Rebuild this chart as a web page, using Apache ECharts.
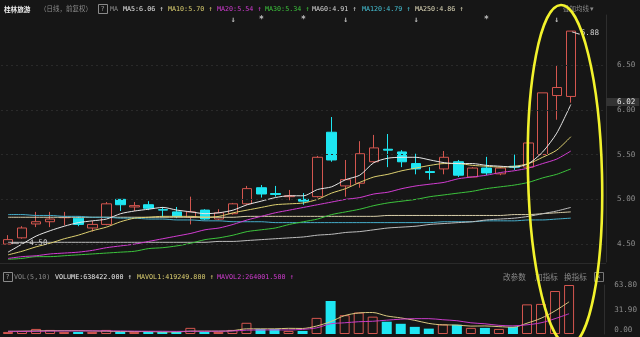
<!DOCTYPE html>
<html><head><meta charset="utf-8">
<script src="https://cdn.jsdelivr.net/npm/echarts@6/dist/echarts.min.js"></script>
<style>html,body{margin:0;padding:0;background:#161616}#c{width:640px;height:337px}</style>
</head><body><div id="c"></div>
<script>
// ---------- data ----------
const categories = ['T1','T2','T3','T4','T5','T6','T7','T8','T9','T10','T11','T12','T13','T14','T15','T16','T17','T18','T19','T20','T21','T22','T23','T24','T25','T26','T27','T28','T29','T30','T31','T32','T33','T34','T35','T36','T37','T38','T39','T40','T41'];
const opens  = [4.50,4.57,4.725,4.75,4.795,4.79,4.68,4.72,5.00,4.915,4.94,4.885,4.86,4.80,4.88,4.78,4.84,4.95,5.13,5.065,5.03,5.00,5.03,5.75,5.15,5.18,5.42,5.56,5.53,5.40,5.31,5.34,5.42,5.25,5.35,5.285,5.37,5.36,5.50,6.16,6.15];
const closes = [4.55,4.68,4.75,4.78,4.80,4.72,4.72,4.95,4.94,4.93,4.90,4.88,4.81,4.86,4.78,4.85,4.95,5.12,5.06,5.055,5.04,4.98,5.47,5.44,5.22,5.51,5.575,5.55,5.42,5.34,5.30,5.47,5.27,5.35,5.295,5.35,5.36,5.63,6.19,6.25,6.88];
const lows   = [4.50,4.56,4.69,4.69,4.71,4.70,4.64,4.71,4.87,4.87,4.88,4.80,4.79,4.72,4.77,4.77,4.83,4.94,5.02,5.03,4.99,4.94,5.02,5.42,5.03,5.13,5.41,5.36,5.36,5.28,5.22,5.28,5.25,5.25,5.27,5.27,5.33,5.36,5.50,5.89,6.08];
const highs  = [4.60,4.70,4.86,4.86,4.86,4.81,4.76,4.97,5.00,4.97,4.98,4.915,4.915,5.03,4.89,4.89,4.96,5.15,5.16,5.15,5.105,5.07,5.485,5.92,5.44,5.65,5.72,5.73,5.55,5.51,5.36,5.54,5.44,5.36,5.475,5.37,5.50,5.63,6.19,6.50,6.88];
const ma5   = [4.41,4.50,4.59,4.65,4.70,4.74,4.76,4.78,4.84,4.87,4.89,4.91,4.88,4.86,4.84,4.85,4.88,4.94,4.98,5.02,5.04,5.04,5.11,5.14,5.22,5.27,5.41,5.46,5.47,5.47,5.44,5.41,5.40,5.40,5.38,5.37,5.36,5.40,5.53,5.74,6.06];
const ma10  = [4.38,4.42,4.47,4.51,4.56,4.60,4.65,4.69,4.75,4.79,4.80,4.81,4.81,4.81,4.80,4.81,4.85,4.88,4.91,4.94,4.95,4.96,5.00,5.07,5.12,5.19,5.25,5.28,5.32,5.35,5.38,5.40,5.40,5.38,5.37,5.36,5.37,5.40,5.47,5.55,5.70];
const ma20  = [4.34,4.36,4.37,4.39,4.40,4.41,4.43,4.46,4.48,4.50,4.53,4.56,4.59,4.62,4.66,4.68,4.72,4.77,4.81,4.85,4.88,4.91,4.94,4.97,5.00,5.02,5.06,5.08,5.12,5.15,5.17,5.19,5.23,5.25,5.27,5.30,5.32,5.35,5.40,5.45,5.54];
const ma30  = [4.33,4.34,4.36,4.36,4.37,4.38,4.39,4.40,4.41,4.42,4.45,4.46,4.48,4.51,4.55,4.57,4.60,4.64,4.66,4.68,4.72,4.75,4.78,4.83,4.86,4.89,4.93,4.96,4.98,5.00,5.03,5.05,5.07,5.09,5.12,5.14,5.16,5.19,5.24,5.28,5.34];
const ma60  = [4.52,4.52,4.52,4.52,4.52,4.52,4.52,4.52,4.52,4.52,4.52,4.52,4.52,4.52,4.52,4.53,4.53,4.54,4.55,4.56,4.57,4.58,4.60,4.61,4.63,4.64,4.66,4.68,4.69,4.70,4.72,4.73,4.74,4.75,4.77,4.78,4.79,4.81,4.84,4.87,4.91];
const ma120 = [4.83,4.83,4.82,4.82,4.81,4.81,4.80,4.80,4.79,4.79,4.78,4.78,4.77,4.77,4.76,4.76,4.75,4.75,4.75,4.74,4.74,4.74,4.74,4.74,4.74,4.74,4.74,4.74,4.74,4.74,4.74,4.75,4.75,4.75,4.76,4.76,4.76,4.77,4.77,4.78,4.79];
const ma250 = [4.80,4.80,4.80,4.80,4.80,4.80,4.80,4.80,4.80,4.80,4.80,4.80,4.80,4.80,4.80,4.80,4.80,4.81,4.81,4.81,4.81,4.81,4.81,4.81,4.81,4.81,4.81,4.82,4.82,4.82,4.82,4.82,4.82,4.82,4.82,4.82,4.83,4.83,4.84,4.85,4.86];
// volume in units of 10,000 shares
const volumes = [2.7,4,6.6,5.3,2.7,2.7,2.7,5.3,2.7,2.7,2.7,2.7,2.7,8,2.7,2.7,5.3,14.6,6.6,6.6,4,4,21,43,24.5,28,22.6,16,13.3,9.3,7,12.5,12,8,8,6.6,9.3,38.6,39.2,56,63.8422];
const mavol1 = [3.5,3.6,4.0,4.3,4.3,4.4,4.0,3.7,3.2,3.2,3.2,2.7,2.7,3.7,3.7,3.7,4.3,6.7,6.7,6.7,7.4,7.2,10.4,16.1,24,27.4,28,23.5,21,17.8,13.8,11.9,11.7,10.3,10.5,9.6,8.8,14.1,20.5,30.1,41.92498];
const mavol2 = [3.5,3.5,3.6,3.8,3.9,4.0,4.0,4.0,4.0,3.7,3.6,3.6,3.4,3.6,3.6,3.7,3.9,5.0,5.2,5.3,5.3,6.0,8.0,13.3,14.6,16,16.6,18,19.3,20,20,18.6,17.3,14.6,13.3,11.3,10.6,12,14.6,20,26.40015];
const priceTicks = [4.5,5.0,5.5,6.0,6.5];
const volTicks = [0,31.9,63.8];
const markPrice = 6.02;
const eventIdx = [16,18,21,24,29,34,39];
const eventGlyph = ['↓','*','*','↓','↓','*','↓'];

// ---------- style ----------
const BG='#161616', UP='#d4564f', DOWN='#1ee6f2';
const C = {ma5:'#e6e6e6', ma10:'#ddd070', ma20:'#d23cd2', ma30:'#3cc43c', ma60:'#bdbdbd', ma120:'#46aecb', ma250:'#d8ceaa'};
const PMIN=4.30, PMAX=7.06;
const axisData = categories.concat([' ','  ']);
const last = a => a[a.length-1];
const mono = 'DejaVu Sans Mono', cjk = 'Noto Sans CJK SC';

const isUp = closes.map((c,i)=>c>=opens[i]);
const maxI = highs.indexOf(Math.max(...highs));
const minI = lows.indexOf(Math.min(...lows));

function txt(x,y,text,fill,font){return {type:'text',x:x,y:y,z:50,style:{text:text,fill:fill,font:font,textVerticalAlign:'middle'}};}
const F = '6.7px "'+mono+'"';
const FC = '6.5px "'+cjk+'"';
const header = [
  txt(4,9,'桂林旅游','#eeeeee','bold 6.6px "'+cjk+'"'),
  txt(40,9,'（日线，前复权）','#8a8a8a',FC),
  {type:'rect',shape:{x:98.5,y:4.5,width:9,height:9},style:{fill:'none',stroke:'#8a8a8a',lineWidth:1},z:50},
  txt(100.5,9.5,'?','#9a9a9a',F),
  txt(110,9,'MA','#8a8a8a',F),
];
const maItems = [['MA5',ma5,C.ma5,123],['MA10',ma10,C.ma10,168],['MA20',ma20,C.ma20,217],['MA30',ma30,C.ma30,265],['MA60',ma60,'#d8d8d8',312],['MA120',ma120,'#46c4d8',362],['MA250',ma250,'#e2dcbc',415]];
maItems.forEach(m=>{
  const s = m[0]+':'+last(m[1]).toFixed(2);
  header.push(txt(m[3],9,s,m[2],F));
  header.push(txt(m[3]+s.length*4.05+4,9,'↑',m[2],'7px "'+mono+'"'));
});
header.push(txt(563,9,'叠加均线 ▾','#8a8a8a',FC));
// volume legend
const vleg = [
  {type:'rect',shape:{x:3.5,y:272.5,width:9,height:9},style:{fill:'none',stroke:'#8a8a8a',lineWidth:1},z:50},
  txt(5.5,277.5,'?','#9a9a9a',F),
  txt(14,277,'VOL(5,10)','#8a8a8a',F)
];
[['VOLUME',last(volumes),'#eeeeee',55],['MAVOL1',last(mavol1),'#ddd070',137],['MAVOL2',last(mavol2),'#d23cd2',217]].forEach(v=>{
  const s = v[0]+':'+(v[1]*10000).toFixed(3);
  vleg.push(txt(v[3],277,s,v[2],F));
  vleg.push(txt(v[3]+s.length*4.05+4,277,'↑',v[2],'7px "'+mono+'"'));
});
vleg.push(txt(503,277,'改参数','#8a8a8a','7.6px "'+cjk+'"'));
vleg.push(txt(535,277,'加指标','#8a8a8a','7.6px "'+cjk+'"'));
vleg.push(txt(564,277,'换指标','#8a8a8a','7.6px "'+cjk+'"'));
vleg.push({type:'rect',shape:{x:594.5,y:272.5,width:9,height:9},style:{fill:'none',stroke:'#777',lineWidth:1},z:50});
vleg.push(txt(596.5,277.5,'×','#999','7px "'+mono+'"'));

function maLine(name,data,color){
  return {name:name,type:'line',xAxisIndex:0,yAxisIndex:0,data:data,symbol:'none',smooth:0.25,
    lineStyle:{color:color,width:1},z:3,silent:true};
}

const option = {
  backgroundColor: BG,
  animation:false,
  grid:[{left:1,right:34,top:15,height:247},{left:1,right:34,top:285,height:49}],
  xAxis:[
    {type:'category',gridIndex:0,data:axisData,boundaryGap:true,axisLine:{show:false},axisTick:{show:false},axisLabel:{show:false},splitLine:{show:false}},
    {type:'category',gridIndex:1,data:axisData,boundaryGap:true,axisLine:{show:false},axisTick:{show:false},axisLabel:{show:false},splitLine:{show:false}}
  ],
  yAxis:[
    {type:'value',gridIndex:0,position:'right',min:PMIN,max:PMAX,
     axisLine:{show:true,lineStyle:{color:'#2e2e2e'}},axisTick:{show:false},splitLine:{show:false},
     axisLabel:{customValues:priceTicks,color:'#8c8c8c',fontFamily:mono,fontSize:7.6,margin:11,formatter:v=>v.toFixed(2)}},
    {type:'value',gridIndex:1,position:'right',min:0,max:last(volumes),
     axisLine:{show:true,lineStyle:{color:'#2e2e2e'}},axisTick:{show:false},splitLine:{show:false},
     axisLabel:{customValues:volTicks,color:'#8c8c8c',fontFamily:mono,fontSize:7.6,margin:10,
       formatter:v=> v===0 ? '{b|0.00}' : v.toFixed(2),
       rich:{b:{color:'#8c8c8c',fontFamily:mono,fontSize:7.6,padding:[0,0,8,0]}}}}
  ],
  series:[
    {type:'candlestick',xAxisIndex:0,yAxisIndex:0,barWidth:10,z:2,
     data:opens.map((o,i)=>[o,closes[i],lows[i],highs[i]]),
     itemStyle:{color:BG,color0:DOWN,borderColor:UP,borderColor0:DOWN,borderWidth:1},
     markLine:{silent:true,symbol:['none','none'],animation:false,
       data: priceTicks.map(v=>({yAxis:v,lineStyle:{color:'#2a2a2a',type:[2,3],width:1},label:{show:false}}))
         .concat([{yAxis:markPrice,lineStyle:{color:'rgba(0,0,0,0)',width:0.01},label:{show:true,position:'end',distance:0,offset:[0,-6],formatter:markPrice.toFixed(2),
            color:'#e6e6e6',fontFamily:mono,fontSize:7.6,backgroundColor:'#333333',padding:[0,4,0,11]}}])},
     markPoint:{silent:true,animation:false,data:[
       {coord:[maxI,highs[maxI]],symbol:'rect',symbolSize:[8,1],symbolRotate:-18,symbolOffset:[5,2],itemStyle:{color:'#dddddd'},
        label:{show:true,position:'right',distance:1,formatter:highs[maxI].toFixed(2),color:'#cfcfcf',fontFamily:mono,fontSize:7.6}},
       {coord:[minI,lows[minI]],symbol:'rect',symbolSize:[8,1],symbolOffset:[7,-1],itemStyle:{color:'#dddddd'},
        label:{show:true,position:'right',distance:1,formatter:'⇐ '+lows[minI].toFixed(2),color:'#cfcfcf',fontFamily:mono,fontSize:7.6}}
     ]}
    },
    maLine('MA250',ma250,C.ma250),
    maLine('MA120',ma120,C.ma120),
    maLine('MA60',ma60,C.ma60),
    maLine('MA30',ma30,C.ma30),
    maLine('MA20',ma20,C.ma20),
    maLine('MA10',ma10,C.ma10),
    maLine('MA5',ma5,C.ma5),
    {type:'scatter',xAxisIndex:0,yAxisIndex:0,symbolSize:1,itemStyle:{color:'transparent'},silent:true,z:5,
     data:eventIdx.map((idx,k)=>({value:[idx,PMAX-0.06],label:{formatter:eventGlyph[k]}})),
     label:{show:true,position:'inside',color:'#e8e8e8',fontSize:8,fontWeight:'bold',fontFamily:mono}},
    {type:'bar',xAxisIndex:1,yAxisIndex:1,barWidth:10,z:2,silent:true,
     data:volumes.map((v,i)=>({value:v,itemStyle:isUp[i]?{color:BG,borderColor:UP,borderWidth:1}:{color:DOWN,borderColor:DOWN,borderWidth:0}}))},
    {type:'line',xAxisIndex:1,yAxisIndex:1,data:mavol1,symbol:'none',smooth:0.3,lineStyle:{color:'#d8c880',width:1},z:3,silent:true},
    {type:'line',xAxisIndex:1,yAxisIndex:1,data:mavol2,symbol:'none',smooth:0.3,lineStyle:{color:'#c83cc8',width:1},z:3,silent:true}
  ],
  graphic: header.concat(vleg).concat([
    {type:'line',shape:{x1:0,y1:263.5,x2:606,y2:263.5},style:{stroke:'#2a2a2a',lineWidth:1},z:1},
    {type:'ellipse',shape:{cx:565,cy:175,rx:37,ry:170},rotation:0.024,origin:[565,175],
     style:{fill:'none',stroke:'#f2f22c',lineWidth:2.6},z:100}
  ])
};
const chart = echarts.init(document.getElementById('c'),null,{renderer:'canvas'});
chart.setOption(option);
</script></body></html>
